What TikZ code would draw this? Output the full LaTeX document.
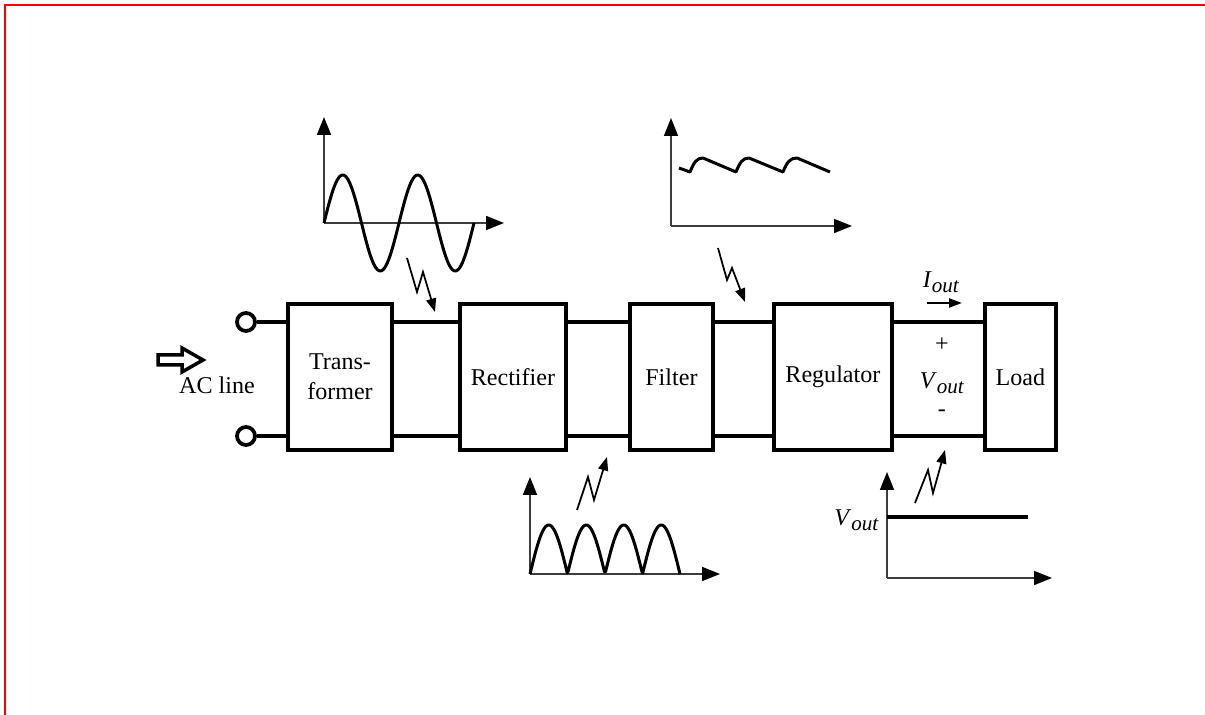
\documentclass[tikz,border=0pt]{standalone}
\usepackage{fontspec}
\setmainfont{Liberation Serif}
\usetikzlibrary{arrows.meta, positioning, calc}
\usepackage{xcolor}
\definecolor{framered}{RGB}{255,0,0}
\definecolor{axiscolor}{RGB}{60,60,60}
\tikzset{
    block/.style={rectangle, draw, line width=0.08cm, minimum height=2.92cm,
        inner sep=0pt, align=center, font=\fontsize{13.7}{17}\selectfont},
    wire/.style={line width=0.08cm},
    term/.style={circle, draw, line width=0.075cm, minimum size=0.36cm, inner sep=0pt},
    axis/.style={-{Triangle[length=0.36cm, width=0.28cm, color=black]}, line width=0.035cm, draw=axiscolor},
    wave/.style={line width=0.06cm, line join=round},
    zigzag/.style={-{Triangle[length=0.27cm, width=0.2cm]}, line width=0.035cm},
    lbl/.style={font=\fontsize{13.7}{17}\selectfont, inner sep=0pt}
}
\newcommand{\outq}[1]{\textit{#1}\raisebox{-0.45ex}{\fontsize{12}{12}\selectfont\textit{out}}}

\begin{document}
\begin{tikzpicture}[x=0.02cm, y=-0.02cm]

    % frame
    \useasboundingbox (0,0) rectangle (1205,715);
    \draw[framered, line width=0.045cm] (5,715) -- (5,5) -- (1205,5);

    % Chain of blocks
    \node[block, minimum width=2.08cm] (trans) at (340,377) {Trans-\\former};
    \node[block, minimum width=2.12cm, right=1.28cm of trans] (rect) {Rectifier};
    \node[block, minimum width=1.66cm, right=1.2cm of rect] (filt) {Filter};
    \node[block, minimum width=2.36cm, right=1.14cm of filt] (reg) {Regulator};
    \node[block, minimum width=1.42cm, right=1.78cm of reg] (load) {Load};

    % wires
    \coordinate (hi) at (0,322);
    \coordinate (lo) at (0,436);
    \node[term] (inA) at (246,322) {};
    \node[term] (inB) at (246,436) {};
    \draw[wire] (inA) -- (trans.west |- inA);
    \draw[wire] (inB) -- (trans.west |- inB);
    \draw[wire] (trans.east |- hi) -- (rect.west |- hi);
    \draw[wire] (trans.east |- lo) -- (rect.west |- lo);
    \draw[wire] (rect.east |- hi) -- (filt.west |- hi);
    \draw[wire] (rect.east |- lo) -- (filt.west |- lo);
    \draw[wire] (filt.east |- hi) -- (reg.west |- hi);
    \draw[wire] (filt.east |- lo) -- (reg.west |- lo);
    \draw[wire] (reg.east |- hi) -- (load.west |- hi);
    \draw[wire] (reg.east |- lo) -- (load.west |- lo);

    % AC input
    \draw[line width=0.07cm] (158,355) -- (182,355) -- (182,348) -- (203,360)
        -- (182,372) -- (182,365) -- (158,365) -- cycle;
    \node[lbl] (acl) at (217,385) {AC line};

    % output quantities
    \node[lbl] (plus) at (942,345) {+};
    \node[lbl] (vo) at (942,383) {\outq{V}};
    \node[lbl] (minus) at (942,413) {-};
    \node[lbl] (io) at (941,282) {\outq{I}};
    \coordinate (ioA) at (927,303);
    \coordinate (ioB) at (962,303);
    \draw[-{Triangle[length=0.26cm, width=0.18cm]}, line width=0.045cm] (ioA) -- (ioB);

    % Waveform after transformer
    \coordinate (o1) at (324,223);
    \draw[axis] (o1) -- (504,223);
    \draw[axis] (o1) -- (324,117);
    \draw[wave] plot[domain=0:150, samples=120, smooth] ({324+\x}, {223-48*sin(4.8*\x)});

    % Waveform after filter
    \coordinate (o2) at (671,226);
    \draw[axis] (o2) -- (852,226);
    \draw[axis] (o2) -- (671,118);
    \draw[wave] (679,168) -- (690,172) .. controls (694,162) and (697,158) .. (703,158)
        -- (736,172) .. controls (740,162) and (743,158) .. (749,158)
        -- (783,172) .. controls (787,162) and (790,158) .. (797,158) -- (830,172);

    % Waveform after rectifier
    \coordinate (o3) at (530,574);
    \draw[axis] (o3) -- (720,574);
    \draw[axis] (o3) -- (530,477);
    \draw[wave] plot[domain=0:150, samples=150] ({530+\x}, {574-49*abs(sin(4.8*\x))});

    % Waveform after regulator
    \coordinate (o4) at (887,578);
    \draw[axis] (o4) -- (1052,578);
    \draw[axis] (o4) -- (887,472);
    \draw[line width=0.08cm] (887,517) -- (1028,517);
    \node[lbl, anchor=east] (vdc) at (879,520) {\outq{V}};

    % pointers to the stages
    \draw[zigzag] (407,258) -- (417,292) -- (423,272) -- (435,312);
    \draw[zigzag] (718,248) -- (727,280) -- (732,268) -- (745,302);
    \draw[zigzag] (577,510) -- (588,477) -- (594,500) -- (607,457);
    \draw[zigzag] (915,503) -- (928,470) -- (933,493) -- (945,450);

\end{tikzpicture}
\end{document}
